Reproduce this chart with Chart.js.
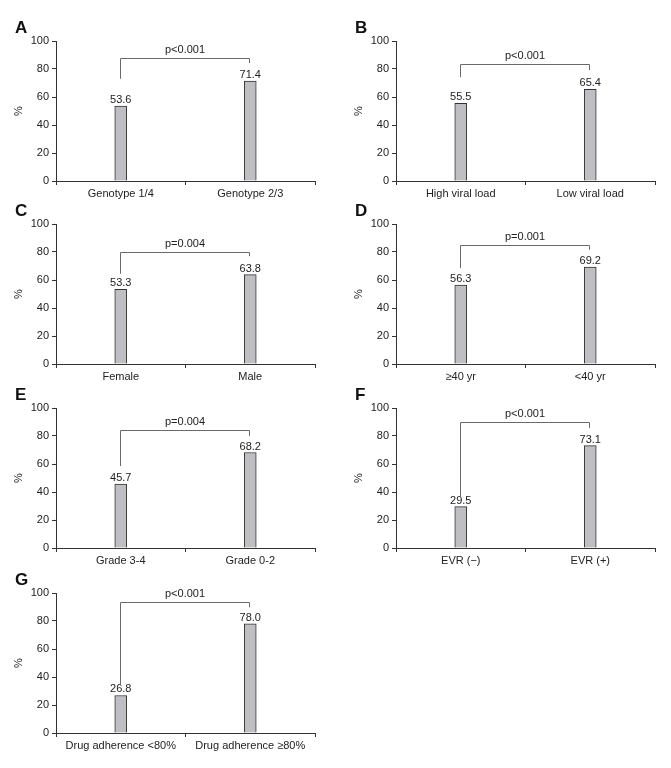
<!DOCTYPE html>
<html>
<head>
<meta charset="utf-8">
<script src="https://cdn.jsdelivr.net/npm/chart.js@4.4.1/dist/chart.umd.min.js"></script>
<style>
  html, body { margin: 0; padding: 0; background: #fff; }
  #page { position: relative; width: 671px; height: 768px; overflow: hidden; }
  #page canvas { position: absolute; }
</style>
</head>
<body>
<div id="page"></div>
<script>
// panel data, one entry per panel A..G
const panelLetters = ['A', 'B', 'C', 'D', 'E', 'F', 'G'];
const leftLabels  = ['Genotype 1/4', 'High viral load', 'Female', '\u226540 yr', 'Grade 3-4', 'EVR (\u2212)', 'Drug adherence <80%'];
const rightLabels = ['Genotype 2/3', 'Low viral load', 'Male', '<40 yr', 'Grade 0-2', 'EVR (+)', 'Drug adherence \u226580%'];
const leftValues  = [53.6, 55.5, 53.3, 56.3, 45.7, 29.5, 26.8];
const rightValues = [71.4, 65.4, 63.8, 69.2, 68.2, 73.1, 78.0];
const pLabels     = ['p<0.001', 'p<0.001', 'p=0.004', 'p=0.001', 'p=0.004', 'p<0.001', 'p<0.001'];
// bracket height and leg ends, in % units
const bracketTop  = [88, 83.4, 80, 84.7, 84.4, 89.8, 93.6];
const leftLegEnd  = [73, 74.1, 64.5, 68.6, 58.6, 36, 35];
const rightLegEnd = [84.2, 79.2, 77, 81.6, 80.1, 85.8, 89.8];
const yTicks = [0, 20, 40, 60, 80, 100];

// where each panel's canvas sits on the page
const panelLeft = [0, 340, 0, 340, 0, 340, 0];
const panelTop  = [5, 5, 188, 188, 372, 372, 557];

const FONT = '"Liberation Sans", Arial, Helvetica, sans-serif';
Chart.defaults.font.family = FONT;
Chart.defaults.font.size = 11;
Chart.defaults.color = '#222';

// value labels, significance bracket and panel letter
const annotate = {
  id: 'annotate',
  afterDatasetsDraw(chart, args, opts) {
    const { ctx, scales: { x, y }, chartArea } = chart;
    const meta = chart.getDatasetMeta(0);
    ctx.save();
    ctx.font = '11px ' + FONT;
    ctx.fillStyle = '#222';
    ctx.textAlign = 'center';
    ctx.textBaseline = 'alphabetic';
    meta.data.forEach((bar, i) => {
      ctx.fillText(chart.data.datasets[0].data[i].toFixed(1), bar.x, bar.y - 3);
    });

    const x0 = Math.round(x.getPixelForValue(0)) - 0.5;
    const x1 = Math.round(x.getPixelForValue(1)) - 0.5;
    const yt = Math.round(y.getPixelForValue(opts.top)) + 0.5;
    ctx.strokeStyle = '#6a6a6a';
    ctx.lineWidth = 1;
    ctx.beginPath();
    ctx.moveTo(x0, y.getPixelForValue(opts.legL));
    ctx.lineTo(x0, yt);
    ctx.lineTo(x1, yt);
    ctx.lineTo(x1, y.getPixelForValue(opts.legR));
    ctx.stroke();
    ctx.fillText(opts.p, (x0 + x1) / 2, yt - 6);

    ctx.font = 'bold 17px ' + FONT;
    ctx.fillStyle = '#111';
    ctx.textAlign = 'left';
    ctx.fillText(opts.letter, 15, chartArea.top - 8);
    ctx.restore();
  }
};

const page = document.getElementById('page');

panelLetters.forEach((letter, i) => {
  const canvas = document.createElement('canvas');
  canvas.width = 330;
  canvas.height = 200;
  canvas.style.left = panelLeft[i] + 'px';
  canvas.style.top = panelTop[i] + 'px';
  page.appendChild(canvas);

  new Chart(canvas, {
    type: 'bar',
    data: {
      labels: [leftLabels[i], rightLabels[i]],
      datasets: [{
        data: [leftValues[i], rightValues[i]],
        backgroundColor: '#bfbfc3',
        borderColor: '#333',
        borderWidth: 1,
        borderSkipped: 'bottom',
        barThickness: 12
      }]
    },
    options: {
      responsive: false,
      animation: false,
      layout: { padding: { left: 0, top: 36, right: 15, bottom: 0 } },
      plugins: {
        legend: { display: false },
        tooltip: { enabled: false },
        annotate: {
          letter: letter,
          p: pLabels[i],
          top: bracketTop[i],
          legL: leftLegEnd[i],
          legR: rightLegEnd[i]
        }
      },
      scales: {
        x: {
          grid: { offset: true, drawOnChartArea: false, drawTicks: true, tickLength: 4, color: '#333' },
          border: { color: '#333' },
          ticks: { padding: 2, maxRotation: 0, autoSkip: false },
          afterFit: s => { s.height = 24; }
        },
        y: {
          min: 0,
          max: 100,
          grid: { drawOnChartArea: false, drawTicks: true, tickLength: 4, color: '#333' },
          border: { color: '#333' },
          ticks: { padding: 3 },
          afterBuildTicks: s => { s.ticks = yTicks.map(v => ({ value: v })); },
          title: { display: true, text: '%', font: { size: 11 }, padding: { top: 12, bottom: 0 } },
          afterFit: s => { s.width = 56; }
        }
      }
    },
    plugins: [annotate]
  });
});
</script>
</body>
</html>
